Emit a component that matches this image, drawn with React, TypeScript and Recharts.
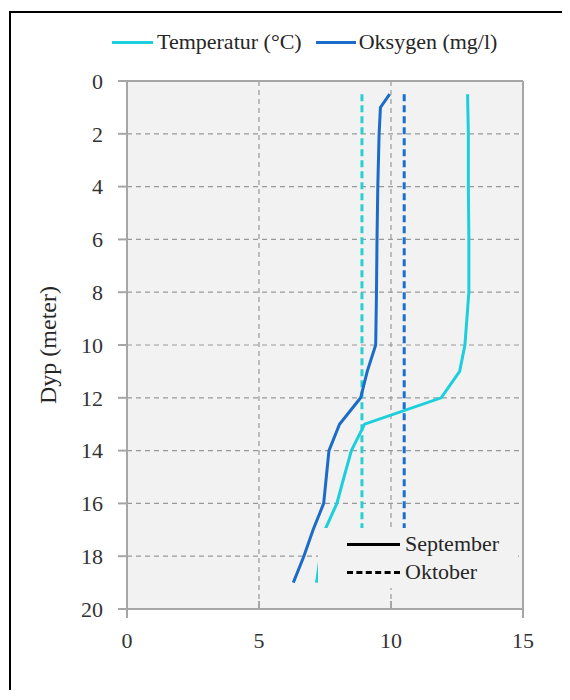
import {
  CartesianGrid,
  ReferenceLine,
  Scatter,
  ScatterChart,
  XAxis,
  YAxis,
} from "recharts";

// September profiles (depth in meter)
const tempSepDepth = [0.5, 2, 4, 6, 8, 10, 11, 12, 13, 14, 15, 16, 17, 18, 19];
const tempSepValue = [12.9, 12.93, 12.93, 12.95, 12.95, 12.8, 12.6, 11.9, 9.0, 8.5, 8.22, 7.95, 7.5, 7.32, 7.18];

const oxySepDepth = [0.5, 1, 2, 4, 6, 8, 10, 11, 12, 13, 14, 15, 16, 17, 18, 19];
const oxySepValue = [9.95, 9.6, 9.55, 9.5, 9.47, 9.45, 9.42, 9.1, 8.85, 8.05, 7.65, 7.55, 7.45, 7.05, 6.7, 6.3];

// October profiles
const tempOctDepth = [0.5, 17];
const tempOctValue = [8.9, 8.9];
const oxyOctDepth = [0.5, 17];
const oxyOctValue = [10.5, 10.5];

const depthTicks = [0, 2, 4, 6, 8, 10, 12, 14, 16, 18, 20];
const valueTicks = [0, 5, 10, 15];

const CYAN = "#1ccfdc";
const CYAN_DASH = "#2ccfcf";
const BLUE = "#1a6cc8";
const BLUE_DASH = "#1a6fcf";
const AXIS = "#a6a6a6";
const FONT = "'Liberation Serif', 'Times New Roman', serif";

const toPoints = (depths: number[], values: number[]) =>
  depths.map((d, i) => ({ depth: d, value: values[i] }));

const noDot = () => <g />;

function XTick(props: any) {
  const { x, y, payload } = props;
  const axisY = y - 8 - 14;
  const up = payload.value !== 0 && payload.value !== 15;
  return (
    <g>
      <line x1={x} x2={x} y1={axisY} y2={up ? axisY - 8 : axisY + 9} stroke={AXIS} strokeWidth={2} />
      <text x={x} y={y} dy="0.75em" textAnchor="middle" fill="#333" fontSize={22} style={{ fontFamily: FONT }}>
        {payload.value}
      </text>
    </g>
  );
}

export default function App() {
  return (
    <div
      style={{
        position: "relative",
        top: 3,
        left: 1,
        width: 559,
        height: 680,
        borderTop: "2px solid #000",
        borderLeft: "2px solid #000",
        fontFamily: FONT,
        color: "#262626",
      }}
    >
      <ScatterChart
        width={559}
        height={680}
        margin={{ top: 68, right: 47, bottom: 0, left: 0 }}
        style={{ fontFamily: FONT }}
      >
        <CartesianGrid fill="#f2f2f2" stroke="#999" strokeDasharray="5 4" strokeWidth={1.2} />
        <XAxis
          type="number"
          dataKey="value"
          domain={[0, 15]}
          ticks={valueTicks}
          height={84}
          axisLine={{ stroke: AXIS, strokeWidth: 2 }}
          tickLine={false}
          tickSize={8}
          tickMargin={14}
          tick={<XTick />}
        />
        <YAxis
          type="number"
          dataKey="depth"
          domain={[0, 20]}
          ticks={depthTicks}
          reversed
          width={116}
          axisLine={{ stroke: AXIS, strokeWidth: 2 }}
          tickLine={{ stroke: AXIS, strokeWidth: 2 }}
          tickSize={9}
          tickMargin={15}
          tick={{ fill: "#333", fontSize: 22, style: { fontFamily: FONT } }}
          label={{
            value: "Dyp (meter)",
            angle: -90,
            position: "insideLeft",
            offset: 36,
            style: { textAnchor: "middle", fill: "#262626", fontSize: 24, fontFamily: FONT },
          }}
        />
        <ReferenceLine y={0} stroke={AXIS} strokeWidth={2} />
        <ReferenceLine x={15} stroke={AXIS} strokeWidth={2} />
        <Scatter
          data={toPoints(tempOctDepth, tempOctValue)}
          fill={CYAN_DASH}
          line={{ strokeWidth: 3, strokeDasharray: "7 4" }}
          shape={noDot}
          isAnimationActive={false}
        />
        <Scatter
          data={toPoints(oxyOctDepth, oxyOctValue)}
          fill={BLUE_DASH}
          line={{ strokeWidth: 3, strokeDasharray: "7 4" }}
          shape={noDot}
          isAnimationActive={false}
        />
        <Scatter
          data={toPoints(tempSepDepth, tempSepValue)}
          fill={CYAN}
          line={{ strokeWidth: 3 }}
          shape={noDot}
          isAnimationActive={false}
        />
        <Scatter
          data={toPoints(oxySepDepth, oxySepValue)}
          fill={BLUE}
          line={{ strokeWidth: 3 }}
          shape={noDot}
          isAnimationActive={false}
        />
      </ScatterChart>

      {/* series legend (top) */}
      <div
        style={{
          position: "absolute",
          left: 101,
          top: 16,
          display: "flex",
          alignItems: "center",
          fontSize: 22,
          whiteSpace: "nowrap",
        }}
      >
        <span style={{ display: "inline-block", width: 41, height: 3, background: CYAN, marginRight: 4 }} />
        <span>Temperatur (°C)</span>
        <span style={{ display: "inline-block", width: 40, height: 3, background: BLUE, marginLeft: 14, marginRight: 3 }} />
        <span>Oksygen (mg/l)</span>
      </div>

      {/* month legend (inside plot) */}
      <div
        style={{
          position: "absolute",
          left: 307,
          top: 515,
          width: 200,
          height: 60,
          background: "#f2f2f2",
          fontSize: 22,
          lineHeight: "28px",
          paddingTop: 2,
          boxSizing: "border-box",
        }}
      >
        <div style={{ display: "flex", alignItems: "center" }}>
          <span style={{ display: "inline-block", width: 53, height: 0, borderTop: "3px solid #000", marginLeft: 29, marginRight: 5 }} />
          <span>September</span>
        </div>
        <div style={{ display: "flex", alignItems: "center" }}>
          <span style={{ display: "inline-block", width: 53, height: 0, borderTop: "3px dashed #000", marginLeft: 29, marginRight: 5 }} />
          <span>Oktober</span>
        </div>
      </div>
    </div>
  );
}
